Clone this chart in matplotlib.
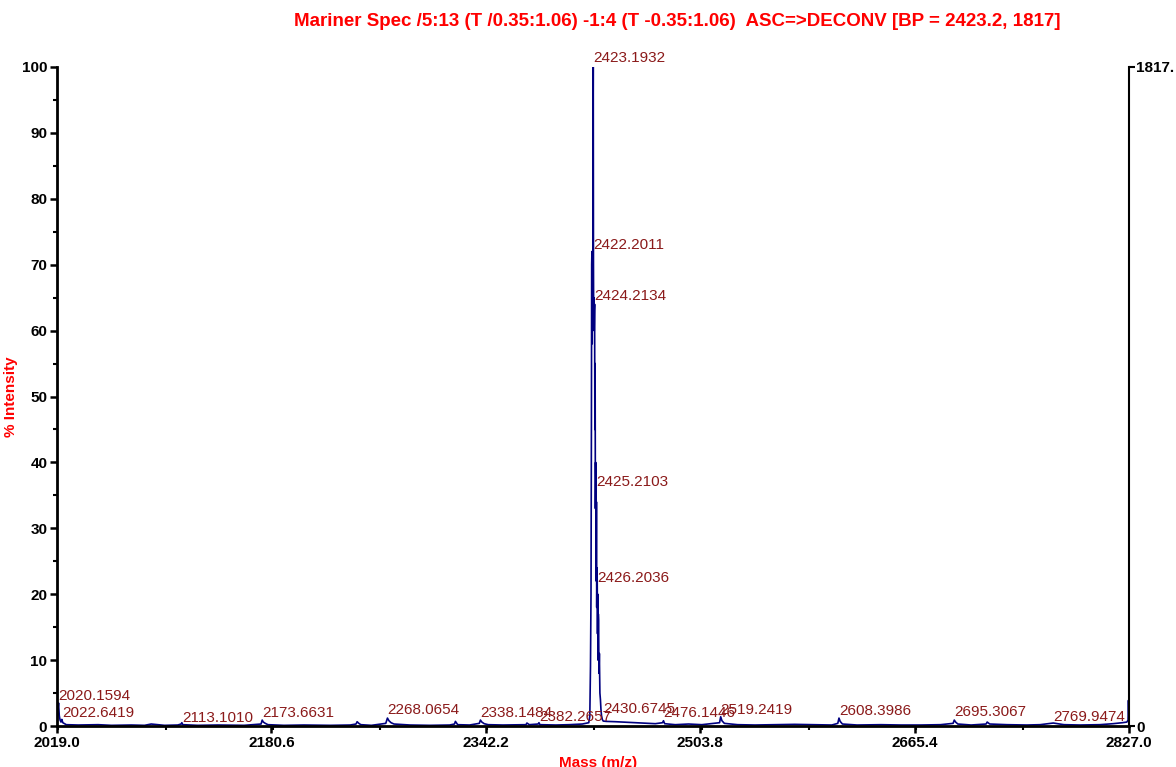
import matplotlib
matplotlib.use("Agg")
import matplotlib.pyplot as plt
from matplotlib.ticker import MultipleLocator

plt.rcParams['font.family'] = ['Liberation Sans', 'DejaVu Sans']

# profile of the deconvoluted spectrum (m/z, % intensity)
mass = [2019.0, 2019.5, 2020.16, 2020.7, 2021.3, 2022.0, 2022.64, 2023.4, 2026, 2035, 2050,
        2060, 2075, 2085, 2090, 2100, 2110, 2112.5, 2113.1, 2113.8, 2125, 2140, 2160,
        2172.8, 2173.66, 2174.5, 2176, 2178, 2190, 2205, 2225, 2240, 2244.4, 2245.2,
        2246.5, 2248, 2256, 2266.8, 2268.07, 2269.2, 2270.8, 2273, 2285, 2300, 2315,
        2318.6, 2319.3, 2321, 2330, 2337.3, 2338.15, 2339.2, 2341, 2344, 2355, 2372.5,
        2373.2, 2375, 2381.6, 2382.27, 2383, 2395, 2405, 2415, 2419.8, 2420.6, 2421.1,
        2421.5, 2421.8, 2422.0, 2422.2, 2422.4, 2422.6, 2422.8, 2423.0, 2423.19, 2423.35,
        2423.5, 2423.7, 2423.9, 2424.05, 2424.21, 2424.4, 2424.6, 2424.8, 2425.0, 2425.21,
        2425.4, 2425.6, 2425.8, 2426.0, 2426.2, 2426.4, 2426.6, 2426.8, 2427.0, 2427.2,
        2427.5, 2427.8, 2428.2, 2428.6, 2429.0, 2429.4, 2430.0, 2430.67, 2433, 2440, 2450,
        2460, 2470, 2475.4, 2476.14, 2477, 2485, 2495, 2505, 2518.4, 2519.24, 2520.2,
        2522, 2532, 2545, 2560, 2575, 2590, 2603, 2607.5, 2608.4, 2609.3, 2611, 2622,
        2640, 2655, 2670, 2685, 2694.4, 2695.31, 2696.3, 2698, 2708, 2719.3, 2720.1,
        2722, 2735, 2750, 2760, 2769.95, 2778, 2790, 2805, 2815, 2822, 2825.4, 2826.3,
        2826.6, 2827.0]
intensity = [0.3, 2.0, 3.5, 1.6, 0.9, 0.6, 1.0, 0.5, 0.2, 0.15, 0.2,
             0.1, 0.15, 0.1, 0.3, 0.1, 0.15, 0.3, 0.5, 0.2, 0.1, 0.15, 0.1,
             0.3, 0.9, 0.6, 0.4, 0.2, 0.1, 0.15, 0.1, 0.15, 0.3, 0.65,
             0.4, 0.2, 0.1, 0.4, 1.2, 0.8, 0.5, 0.3, 0.15, 0.1, 0.15,
             0.3, 0.7, 0.2, 0.15, 0.4, 0.9, 0.6, 0.35, 0.2, 0.15, 0.2,
             0.45, 0.2, 0.3, 0.5, 0.2, 0.15, 0.2, 0.3, 0.5, 1.5, 9.0,
             20.0, 45.0, 70.0, 72.0, 58.0, 68.0, 62.0, 88.0, 100.0, 70.0,
             62.0, 65.0, 60.0, 63.0, 64.0, 45.0, 55.0, 33.0, 40.0, 36.0,
             22.0, 34.0, 18.0, 24.0, 21.5, 14.0, 20.0, 10.0, 17.0, 16.0,
             8.0, 11.0, 5.0, 4.0, 2.5, 1.6, 1.0, 0.75, 0.7, 0.65, 0.55,
             0.45, 0.35, 0.5, 0.8, 0.35, 0.2, 0.3, 0.2, 0.5, 1.4, 0.8,
             0.4, 0.2, 0.15, 0.2, 0.25, 0.2, 0.15, 0.4, 1.2, 0.7, 0.3, 0.15,
             0.2, 0.15, 0.15, 0.2, 0.4, 0.9, 0.6, 0.3, 0.15, 0.3, 0.6,
             0.3, 0.2, 0.15, 0.2, 0.45, 0.2, 0.15, 0.2, 0.35, 0.5, 0.6, 0.9,
             3.9, 0.5]

# annotated peaks: label, m/z position, label height (% intensity)
peak_labels = ['2423.1932', '2422.2011', '2424.2134', '2425.2103', '2426.2036',
               '2020.1594', '2022.6419', '2113.1010', '2173.6631', '2268.0654',
               '2338.1484', '2382.2657', '2430.6745', '2476.1446', '2519.2419',
               '2608.3986', '2695.3067', '2769.9474']
label_mass = [2423.19, 2423.2, 2424.21, 2425.21, 2426.2,
              2020.16, 2022.64, 2113.10, 2173.66, 2268.07,
              2338.15, 2382.27, 2430.67, 2476.14, 2519.24,
              2608.40, 2695.31, 2769.95]
label_height = [101.3, 73.0, 65.2, 37.0, 22.4,
                4.6, 2.0, 1.2, 2.0, 2.4,
                2.0, 1.4, 2.6, 2.0, 2.4,
                2.3, 2.1, 1.4]

x_ticks = [2019.0, 2180.6, 2342.2, 2503.8, 2665.4, 2827.0]

fig = plt.figure(figsize=(11.76, 7.67), dpi=100)
ax = fig.add_axes([57/1176, 41/767, 1072/1176, 659/767])

ax.plot(mass, intensity, color='#000080', lw=1.2)

for lab, mx, h in zip(peak_labels, label_mass, label_height):
    ax.text(mx, h, lab, color='#8B1A1A', fontsize=11, ha='left', va='center')

ax.set_xlim(2019.0, 2827.0)
ax.set_ylim(0, 100)
ax.set_xticks(x_ticks)
ax.set_xticklabels(['%.1f' % v for v in x_ticks], fontweight='bold', fontsize=11)
ax.xaxis.set_minor_locator(MultipleLocator(80.8))
ax.set_yticks(range(0, 101, 10))
ax.set_yticklabels([str(v) for v in range(0, 101, 10)], fontweight='bold', fontsize=11)
ax.yaxis.set_minor_locator(MultipleLocator(5))
ax.tick_params(axis='both', which='major', direction='out', length=5, width=1.8, pad=2)
ax.tick_params(axis='both', which='minor', direction='out', length=3, width=1.5)

for s in ['top', 'right']:
    ax.spines[s].set_visible(False)
ax.spines['left'].set_linewidth(2.0)
ax.spines['bottom'].set_linewidth(2.0)

ax.set_xlabel('Mass (m/z)', color='red', fontweight='bold', fontsize=11)
ax.set_ylabel('% Intensity', color='red', fontweight='bold', fontsize=11)
ax.xaxis.set_label_coords(0.505, -0.046)
ax.yaxis.set_label_coords(-0.036, 0.5)

# right-hand absolute-intensity axis
ax2 = ax.twinx()
ax2.set_ylim(0, 1817)
ax2.set_yticks([0, 1817])
ax2.set_yticklabels(['0', '1817.'], fontweight='bold', fontsize=11)
ax2.tick_params(axis='y', direction='out', length=4, width=1.5, pad=1)
for s in ['top', 'left', 'bottom']:
    ax2.spines[s].set_visible(False)
ax2.spines['right'].set_linewidth(1.5)

fig.text(0.5757, 0.972,
         'Mariner Spec /5:13 (T /0.35:1.06) -1:4 (T -0.35:1.06)  ASC=>DECONV [BP = 2423.2, 1817]',
         color='red', fontweight='bold', fontsize=13.5, ha='center', va='center')

fig.savefig('out.png', dpi=100)
